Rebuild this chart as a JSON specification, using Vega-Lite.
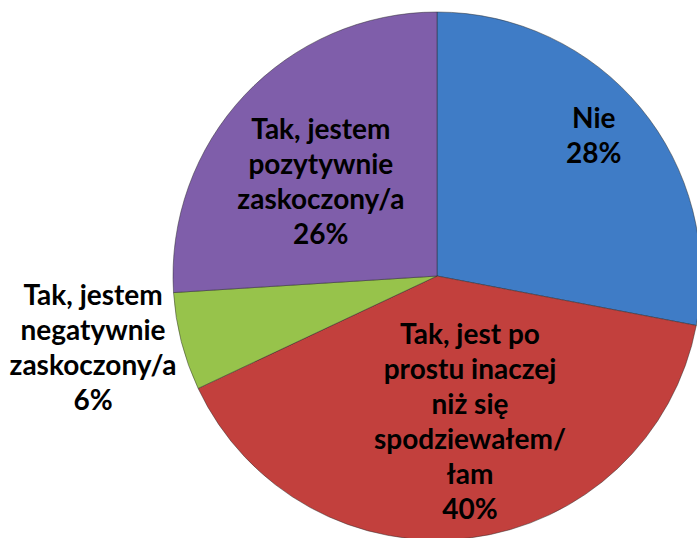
{
  "$schema": "https://vega.github.io/schema/vega-lite/v6.json",
  "width": 520,
  "height": 520,
  "autosize": {"type": "none"},
  "padding": {"left": 177, "top": 16, "right": 0, "bottom": 2},
  "background": "white",
  "config": {"view": {"stroke": null}},
  "data": {
    "values": [
      {"cat": "Nie", "value": 28, "idx": 1, "label": "Nie\n28%"},
      {"cat": "Tak, jest po prostu inaczej niż się spodziewałem/łam", "value": 40, "idx": 2, "label": "Tak, jest po\nprostu inaczej\nniż się\nspodziewałem/\nłam\n40%"},
      {"cat": "Tak, jestem negatywnie zaskoczony/a", "value": 6, "idx": 3, "label": "Tak, jestem\nnegatywnie\nzaskoczony/a\n6%"},
      {"cat": "Tak, jestem pozytywnie zaskoczony/a", "value": 26, "idx": 4, "label": "Tak, jestem\npozytywnie\nzaskoczony/a\n26%"}
    ]
  },
  "encoding": {
    "theta": {"field": "value", "type": "quantitative", "stack": true},
    "order": {"field": "idx", "type": "quantitative"}
  },
  "layer": [
    {
      "mark": {"type": "arc", "outerRadius": 264, "stroke": "#2b2b2b", "strokeWidth": 0.8, "strokeOpacity": 0.6},
      "encoding": {
        "color": {
          "field": "cat",
          "type": "nominal",
          "scale": {
            "domain": ["Nie", "Tak, jest po prostu inaczej niż się spodziewałem/łam", "Tak, jestem negatywnie zaskoczony/a", "Tak, jestem pozytywnie zaskoczony/a"],
            "range": ["#3f7cc6", "#c2403d", "#97c34b", "#7f5eaa"]
          },
          "legend": null
        }
      }
    },
    {
      "mark": {"type": "text", "font": "Lato", "fontWeight": "bold", "fontSize": 28, "lineBreak": "\n", "lineHeight": 35, "align": "center", "baseline": "middle", "color": "black", "radius": 221, "thetaOffset": -0.091},
      "encoding": {"text": {"condition": {"test": "datum.idx === 1", "field": "label"}, "value": ""}}
    },
    {
      "mark": {"type": "text", "font": "Lato", "fontWeight": "bold", "fontSize": 28, "lineBreak": "\n", "lineHeight": 35, "align": "center", "baseline": "middle", "color": "black", "radius": 68.5, "thetaOffset": -0.377},
      "encoding": {"text": {"condition": {"test": "datum.idx === 2", "field": "label"}, "value": ""}}
    },
    {
      "mark": {"type": "text", "font": "Lato", "fontWeight": "bold", "fontSize": 28, "lineBreak": "\n", "lineHeight": 35, "align": "center", "baseline": "middle", "color": "black", "radius": 344.6, "thetaOffset": 0.19},
      "encoding": {"text": {"condition": {"test": "datum.idx === 3", "field": "label"}, "value": ""}}
    },
    {
      "mark": {"type": "text", "font": "Lato", "fontWeight": "bold", "fontSize": 28, "lineBreak": "\n", "lineHeight": 35, "align": "center", "baseline": "middle", "color": "black", "radius": 185.7, "thetaOffset": 0.141},
      "encoding": {"text": {"condition": {"test": "datum.idx === 4", "field": "label"}, "value": ""}}
    }
  ]
}
